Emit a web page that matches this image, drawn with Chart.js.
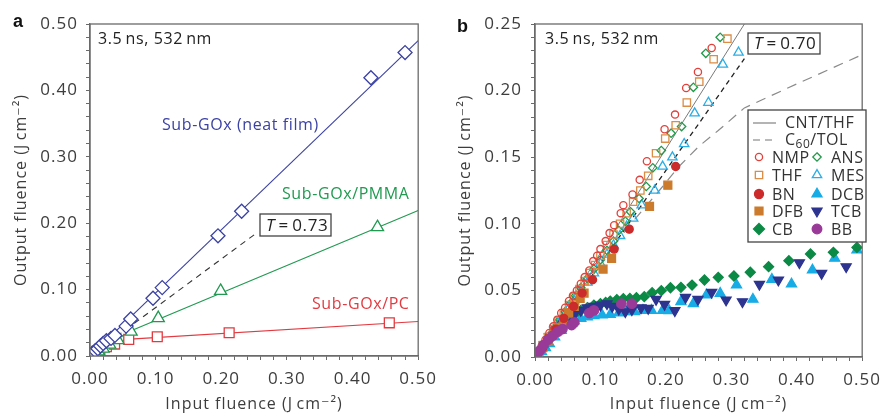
<!DOCTYPE html>
<html><head><meta charset="utf-8">
<script src="https://cdn.jsdelivr.net/npm/chart.js@4.4.1/dist/chart.umd.min.js"></script>
<style>
html,body{margin:0;padding:0;background:#fff;width:888px;height:415px;overflow:hidden}
canvas{position:absolute;top:0}
#chartA{left:0}
#chartB{left:444px}
</style></head><body>
<canvas id="chartA" width="444" height="415"></canvas>
<canvas id="chartB" width="444" height="415"></canvas>
<script>
const FONT = "'Open Sans', 'DejaVu Sans', sans-serif";
const INK = '#3d3d3d';
const AXIS = '#6a6a6a';

// ---- Panel a: sub-GOx films ----
const neatX = [0.002,0.005,0.008,0.012,0.016,0.020,0.025,0.032,0.038,0.055,0.062,0.096,0.110,0.195,0.231,0.428,0.480];
const neatY = [0.002,0.005,0.008,0.011,0.015,0.019,0.023,0.0265,0.031,0.045,0.0557,0.087,0.103,0.181,0.218,0.419,0.457];
const pmmaX = [0.003,0.008,0.013,0.020,0.030,0.0425,0.0626,0.104,0.199,0.438];
const pmmaY = [0.001,0.004,0.007,0.011,0.017,0.024,0.0366,0.057,0.098,0.194];
const pcX = [0.002,0.005,0.010,0.015,0.025,0.0375,0.059,0.1025,0.212,0.456];
const pcY = [0.002,0.004,0.007,0.009,0.014,0.018,0.025,0.029,0.035,0.050];
const neatFitX = [0, 0.5];
const neatFitY = [0, 0.475];
const pmmaFitX = [0, 0.0626, 0.5];
const pmmaFitY = [0, 0.038, 0.219];
const pcFitX = [0, 0.055, 0.5];
const pcFitY = [0, 0.025, 0.052];
const transA = 0.73;      // linear transmittance
const transAEndX = 0.25;

// ---- Panel b: dispersions ----
const nmpX = [0.004,0.010,0.016,0.022,0.028,0.034,0.040,0.046,0.052,0.058,0.064,0.070,0.076,0.083,0.089,0.095,0.100,0.108,0.114,0.121,0.131,0.135,0.149,0.160,0.171,0.198,0.214,0.231,0.249,0.270];
const nmpY = [0.003,0.008,0.013,0.018,0.023,0.028,0.033,0.037,0.042,0.046,0.050,0.055,0.060,0.065,0.072,0.076,0.081,0.087,0.093,0.099,0.108,0.114,0.122,0.133,0.147,0.171,0.182,0.202,0.214,0.232];
const thfX = [0.005,0.012,0.020,0.028,0.036,0.044,0.052,0.060,0.068,0.076,0.084,0.092,0.100,0.110,0.120,0.130,0.140,0.150,0.161,0.173,0.185,0.199,0.215,0.232,0.251,0.273,0.294];
const thfY = [0.004,0.009,0.015,0.021,0.027,0.033,0.039,0.045,0.051,0.057,0.063,0.069,0.076,0.084,0.092,0.100,0.108,0.1166,0.125,0.136,0.153,0.164,0.174,0.191,0.2067,0.2235,0.239];
const ansX = [0.006,0.014,0.022,0.030,0.038,0.046,0.054,0.062,0.070,0.080,0.090,0.100,0.110,0.120,0.128,0.138,0.146,0.159,0.170,0.180,0.193,0.208,0.224,0.242,0.261,0.283];
const ansY = [0.004,0.010,0.016,0.022,0.028,0.034,0.040,0.046,0.052,0.059,0.066,0.073,0.080,0.087,0.095,0.102,0.109,0.119,0.128,0.142,0.155,0.168,0.173,0.2025,0.228,0.240];
const mesX = [0.005,0.012,0.020,0.028,0.036,0.044,0.052,0.060,0.070,0.080,0.090,0.100,0.110,0.120,0.130,0.140,0.150,0.163,0.183,0.195,0.210,0.228,0.244,0.265,0.287,0.311];
const mesY = [0.003,0.008,0.014,0.020,0.025,0.031,0.037,0.042,0.049,0.056,0.063,0.070,0.077,0.084,0.091,0.098,0.104,0.114,0.125,0.143,0.150,0.160,0.183,0.191,0.2197,0.2287];
const bnX = [0.004,0.012,0.022,0.032,0.044,0.059,0.072,0.088,0.121,0.144,0.215];
const bnY = [0.002,0.007,0.014,0.021,0.029,0.038,0.048,0.058,0.081,0.096,0.143];
const dfbX = [0.004,0.012,0.020,0.028,0.036,0.044,0.0515,0.060,0.069,0.075,0.104,0.117,0.175,0.203];
const dfbY = [0.002,0.007,0.012,0.017,0.022,0.027,0.033,0.038,0.044,0.048,0.066,0.074,0.113,0.129];
const cbX = [0.005,0.012,0.020,0.030,0.040,0.050,0.060,0.070,0.080,0.090,0.100,0.108,0.115,0.125,0.135,0.145,0.155,0.167,0.179,0.193,0.207,0.223,0.240,0.259,0.280,0.304,0.329,0.357,0.388,0.421,0.456,0.492];
const cbY = [0.003,0.007,0.012,0.018,0.023,0.028,0.032,0.035,0.037,0.039,0.040,0.041,0.042,0.0431,0.0438,0.044,0.0445,0.0453,0.0483,0.0498,0.052,0.0523,0.054,0.0578,0.0598,0.0608,0.0636,0.0678,0.0723,0.0773,0.0786,0.0823];
const dcbX = [0.004,0.010,0.016,0.022,0.030,0.040,0.050,0.060,0.070,0.080,0.090,0.1026,0.115,0.128,0.140,0.152,0.165,0.178,0.195,0.205,0.223,0.242,0.262,0.283,0.308,0.333,0.362,0.392,0.424,0.458,0.492];
const dcbY = [0.002,0.004,0.007,0.010,0.015,0.020,0.024,0.027,0.029,0.030,0.031,0.0315,0.032,0.033,0.034,0.034,0.035,0.035,0.035,0.0348,0.0415,0.040,0.0465,0.0478,0.054,0.0433,0.0583,0.0548,0.0653,0.0741,0.0803];
const tcbX = [0.006,0.014,0.022,0.030,0.040,0.050,0.060,0.070,0.080,0.090,0.100,0.110,0.118,0.128,0.138,0.148,0.162,0.173,0.185,0.198,0.2137,0.230,0.249,0.270,0.292,0.317,0.343,0.372,0.404,0.438,0.4755];
const tcbY = [0.004,0.009,0.015,0.020,0.025,0.029,0.032,0.035,0.037,0.038,0.039,0.040,0.038,0.036,0.034,0.0355,0.037,0.0365,0.0433,0.0395,0.0348,0.0448,0.0433,0.0486,0.0428,0.0415,0.0546,0.0578,0.0708,0.0628,0.0678];
const bbX = [0.003,0.008,0.013,0.020,0.027,0.035,0.042,0.056,0.060,0.083,0.090,0.132,0.148];
const bbY = [0.002,0.005,0.009,0.013,0.016,0.019,0.021,0.024,0.026,0.033,0.035,0.040,0.040];
const cntX = [0, 0.32];
const cntY = [0, 0.25];
const c60X = [0, 0.05, 0.10, 0.15, 0.19, 0.22, 0.25, 0.28, 0.32, 0.36, 0.40, 0.45, 0.50];
const c60Y = [0, 0.036, 0.071, 0.102, 0.125, 0.143, 0.158, 0.170, 0.187, 0.196, 0.205, 0.216, 0.227];
const transB = 0.70;
const transBEndX = 0.32;

// tick values / labels
const xTicksLabelled = ['0.00','0.10','0.20','0.30','0.40','0.50'];
const yTicksA = ['0.00','0.10','0.20','0.30','0.40','0.50'];
const yTicksB = ['0.00','0.05','0.10','0.15','0.20','0.25'];

const C = {
  blue: '#3b42a3', green: '#1f9a50', red: '#e23a40',
  nmp: '#e2413b', thf: '#dc8c44', ans: '#23994a', mes: '#2aaee6',
  bn: '#cc2b2b', dfb: '#cc7a2c', cb: '#0b8a45', dcb: '#17ace6', tcb: '#2d3490', bb: '#9a3a98'
};

const pts = (xs, ys) => xs.map((x, i) => ({x: x, y: ys[i]}));

function markerSet(label, xs, ys, style, radius, color, fill, rotation, order) {
  return {
    label, data: pts(xs, ys), showLine: false,
    pointStyle: style, pointRadius: radius, pointHoverRadius: radius,
    pointRotation: rotation || 0, pointBorderColor: color,
    pointBackgroundColor: fill, pointBorderWidth: 1.3, order: order || 1
  };
}
function lineSet(label, xs, ys, color, width, dash) {
  return {
    label, data: pts(xs, ys), showLine: true, pointRadius: 0, pointHoverRadius: 0,
    borderColor: color, borderWidth: width, borderDash: dash || [], tension: 0, fill: false, order: 20
  };
}

function labelFor(list) {
  return (v) => {
    const s = v.toFixed(2);
    return list.includes(s) ? s : '';
  };
}

function scalesFor(yMax, yStep, yList, yWidth, xHeight, yPad) {
  const tickFont = {family: FONT, size: 17};
  const titleFont = {family: FONT, size: 16};
  return {
    x: {
      type: 'linear', min: 0, max: 0.5,
      ticks: {stepSize: 0.02, autoSkip: false, maxRotation: 0, callback: labelFor(xTicksLabelled), font: tickFont, color: INK, padding: 9},
      grid: {drawOnChartArea: false, drawTicks: true, tickLength: 4, color: AXIS, tickWidth: 1},
      border: {display: true, color: AXIS, width: 1.3},
      title: {display: true, text: 'Input fluence (J\u2009cm\u207B\u00B2)', font: titleFont, color: INK, padding: {top: 0, bottom: 1}},
      afterFit: (s) => { s.height = xHeight; }
    },
    y: {
      type: 'linear', min: 0, max: yMax,
      ticks: {stepSize: yStep, autoSkip: false, callback: labelFor(yList), font: tickFont, color: INK, padding: yPad},
      grid: {drawOnChartArea: false, drawTicks: true, tickLength: 4, color: AXIS, tickWidth: 1},
      border: {display: true, color: AXIS, width: 1.3},
      title: {display: true, text: 'Output fluence (J\u2009cm\u207B\u00B2)', font: titleFont, color: INK, padding: {top: 12, bottom: 0}},
      afterFit: (s) => { s.width = yWidth; }
    }
  };
}

function drawMarker(ctx, style, x, y, r, stroke, fill, rot) {
  ctx.save();
  ctx.strokeStyle = stroke; ctx.fillStyle = fill; ctx.lineWidth = 1.3;
  ctx.beginPath();
  if (style === 'circle') {
    ctx.arc(x, y, r, 0, Math.PI * 2);
  } else if (style === 'rect') {
    const s = r * Math.SQRT1_2;
    ctx.rect(x - s, y - s, 2 * s, 2 * s);
  } else if (style === 'rectRot') {
    ctx.moveTo(x, y - r); ctx.lineTo(x + r, y); ctx.lineTo(x, y + r); ctx.lineTo(x - r, y);
    ctx.closePath();
  } else if (style === 'triangle') {
    let a = (rot || 0) * Math.PI / 180;
    ctx.moveTo(x + Math.sin(a) * r, y - Math.cos(a) * r);
    a += 2 * Math.PI / 3; ctx.lineTo(x + Math.sin(a) * r, y - Math.cos(a) * r);
    a += 2 * Math.PI / 3; ctx.lineTo(x + Math.sin(a) * r, y - Math.cos(a) * r);
    ctx.closePath();
  }
  if (fill !== 'transparent') ctx.fill();
  ctx.stroke();
  ctx.restore();
}

function textBox(ctx, x, y, w, h, value) {
  ctx.save();
  ctx.fillStyle = '#fff';
  ctx.fillRect(x, y, w, h);
  ctx.strokeStyle = '#444'; ctx.lineWidth = 1.3;
  ctx.strokeRect(x, y, w, h);
  ctx.fillStyle = '#222';
  ctx.textBaseline = 'middle';
  ctx.letterSpacing = '0.6px';
  ctx.font = `italic 17px ${FONT}`;
  ctx.fillText('T', x + 6, y + h / 2 + 1);
  const tw = ctx.measureText('T').width;
  ctx.font = `17px ${FONT}`;
  ctx.fillText('\u2009=\u20090.' + value, x + 6 + tw, y + h / 2 + 1);
  ctx.restore();
}

function spacingPlugin(spacing) {
  return {
    id: 'spacing',
    beforeDraw(chart) { chart.ctx.letterSpacing = spacing; }
  };
}

function framePlugin(letter, letterY, draw) {
  return {
    id: 'frame',
    afterDraw(chart) {
      const {ctx, chartArea: a} = chart;
      ctx.save();
      ctx.strokeStyle = AXIS; ctx.lineWidth = 1.3;
      ctx.strokeRect(a.left, a.top, a.right - a.left, a.bottom - a.top);
      ctx.fillStyle = '#111';
      ctx.font = `bold 18px 'Liberation Sans', Arial, sans-serif`;
      ctx.letterSpacing = '0px';
      ctx.fillText(letter, 13, letterY);
      ctx.restore();
      draw(chart);
    }
  };
}

// ---------- Panel a ----------
const dataA = {
  datasets: [
    markerSet('Sub-GOx (neat film)', neatX, neatY, 'rectRot', 7, C.blue, '#fff', 0, 1),
    markerSet('Sub-GOx/PMMA', pmmaX, pmmaY, 'triangle', 7, C.green, '#fff', 0, 2),
    markerSet('Sub-GOx/PC', pcX, pcY, 'rect', 7, C.red, '#fff', 0, 3),
    lineSet('neat fit', neatFitX, neatFitY, C.blue, 1.1),
    lineSet('PMMA fit', pmmaFitX, pmmaFitY, C.green, 1.1),
    lineSet('PC fit', pcFitX, pcFitY, C.red, 1.1),
    lineSet('T', [0, transAEndX], [0, transAEndX * transA], '#333', 1.1, [6, 5])
  ]
};

new Chart(document.getElementById('chartA'), {
  type: 'scatter',
  data: dataA,
  options: {
    responsive: false, animation: false, devicePixelRatio: 1,
    layout: {padding: {top: 24, right: 21, left: 0, bottom: 0}},
    plugins: {legend: {display: false}, tooltip: {enabled: false}},
    scales: scalesFor(0.5, 0.02, yTicksA, 90, 59, 8)
  },
  plugins: [spacingPlugin('1px'), framePlugin('a', 27, (chart) => {
    const ctx = chart.ctx;
    ctx.save();
    ctx.letterSpacing = '0.6px';
    ctx.textBaseline = 'alphabetic';
    ctx.font = `16px ${FONT}`;
    ctx.fillStyle = '#222';
    ctx.fillText('3.5\u2009ns, 532\u2009nm', 98, 44);
    ctx.fillStyle = C.blue;
    ctx.fillText('Sub-GOx (neat film)', 162, 130);
    ctx.fillStyle = C.green;
    ctx.fillText('Sub-GOx/PMMA', 282, 199);
    ctx.fillStyle = C.red;
    ctx.fillText('Sub-GOx/PC', 312, 309);
    ctx.restore();
    textBox(ctx, 260, 214, 71, 22, '73');
  })]
});

// ---------- Panel b ----------
const dataB = {
  datasets: [
    markerSet('NMP', nmpX, nmpY, 'circle', 3.6, C.nmp, 'transparent', 0, 3),
    markerSet('THF', thfX, thfY, 'rect', 5.2, C.thf, 'transparent', 0, 4),
    markerSet('ANS', ansX, ansY, 'rectRot', 4.2, C.ans, 'transparent', 0, 5),
    markerSet('MES', mesX, mesY, 'triangle', 5.4, C.mes, 'transparent', 0, 6),
    markerSet('BN', bnX, bnY, 'circle', 4, C.bn, C.bn, 0, 2),
    markerSet('DFB', dfbX, dfbY, 'rect', 5.6, C.dfb, C.dfb, 0, 2),
    markerSet('CB', cbX, cbY, 'rectRot', 5, C.cb, C.cb, 0, 9),
    markerSet('DCB', dcbX, dcbY, 'triangle', 5.8, C.dcb, C.dcb, 0, 10),
    markerSet('TCB', tcbX, tcbY, 'triangle', 5.8, C.tcb, C.tcb, 180, 8),
    markerSet('BB', bbX, bbY, 'circle', 4.7, C.bb, C.bb, 0, 1),
    lineSet('CNT/THF', cntX, cntY, '#7a7a7a', 1),
    lineSet('C60/TOL', c60X, c60Y, '#8a8a8a', 1.2, [10, 7]),
    lineSet('T', [0, transBEndX], [0, transBEndX * transB], '#222', 1.3, [5, 4])
  ]
};

const legendRows = [
  [{style: 'line'}, 'CNT/THF'],
  [{style: 'dash'}, 'C60/TOL'],
  [['circle', 3.6, C.nmp, 'transparent', 0, 'NMP'], ['rectRot', 4.2, C.ans, 'transparent', 0, 'ANS']],
  [['rect', 5.2, C.thf, 'transparent', 0, 'THF'], ['triangle', 5.4, C.mes, 'transparent', 0, 'MES']],
  [['circle', 4.5, C.bn, C.bn, 0, 'BN'], ['triangle', 5.8, C.dcb, C.dcb, 0, 'DCB']],
  [['rect', 5.6, C.dfb, C.dfb, 0, 'DFB'], ['triangle', 5.8, C.tcb, C.tcb, 180, 'TCB']],
  [['rectRot', 5.5, C.cb, C.cb, 0, 'CB'], ['circle', 4.8, C.bb, C.bb, 0, 'BB']]
];
const legendRowY = [123, 140, 157, 175, 194, 211, 229];

new Chart(document.getElementById('chartB'), {
  type: 'scatter',
  data: dataB,
  options: {
    responsive: false, animation: false, devicePixelRatio: 1,
    layout: {padding: {top: 24, right: 20, left: 0, bottom: 0}},
    plugins: {legend: {display: false}, tooltip: {enabled: false}},
    scales: scalesFor(0.25, 0.01, yTicksB, 91, 58, 9)
  },
  plugins: [spacingPlugin('1px'), framePlugin('b', 32, (chart) => {
    const ctx = chart.ctx;
    ctx.save();
    ctx.letterSpacing = '0.6px';
    ctx.textBaseline = 'alphabetic';
    ctx.font = `16px ${FONT}`;
    ctx.fillStyle = '#222';
    ctx.fillText('3.5\u2009ns, 532\u2009nm', 101, 44);
    ctx.restore();
    textBox(ctx, 304, 33, 72, 21, '70');

    // legend box
    ctx.save();
    ctx.fillStyle = '#fff';
    ctx.fillRect(304, 110, 118, 132);
    ctx.strokeStyle = '#444'; ctx.lineWidth = 1.3;
    ctx.strokeRect(304, 110, 118, 132);
    ctx.letterSpacing = '0.5px';
    ctx.font = `16px ${FONT}`;
    ctx.textBaseline = 'middle';
    ctx.fillStyle = '#333';
    legendRows.forEach((row, i) => {
      const y = legendRowY[i];
      if (row[0].style === 'line' || row[0].style === 'dash') {
        ctx.save();
        ctx.strokeStyle = '#777'; ctx.lineWidth = 1.1;
        ctx.setLineDash(row[0].style === 'dash' ? [7, 5] : []);
        ctx.beginPath(); ctx.moveTo(309, y); ctx.lineTo(332, y); ctx.stroke();
        ctx.restore();
        if (row[1] === 'C60/TOL') {
          ctx.fillText('C', 341, y);
          const w = ctx.measureText('C').width;
          ctx.font = `12px ${FONT}`;
          ctx.fillText('60', 341 + w, y + 5);
          const w2 = ctx.measureText('60').width;
          ctx.font = `16px ${FONT}`;
          ctx.fillText('/TOL', 341 + w + w2, y);
        } else {
          ctx.fillText(row[1], 341, y);
        }
      } else {
        const cols = [[315, 328], [373, 387]];
        row.forEach((m, j) => {
          drawMarker(ctx, m[0], cols[j][0], y, m[1], m[2], m[3], m[4]);
          ctx.fillStyle = '#333';
          ctx.fillText(m[5], cols[j][1], y + 1);
        });
      }
    });
    ctx.restore();
  })]
});
</script>
</body></html>
